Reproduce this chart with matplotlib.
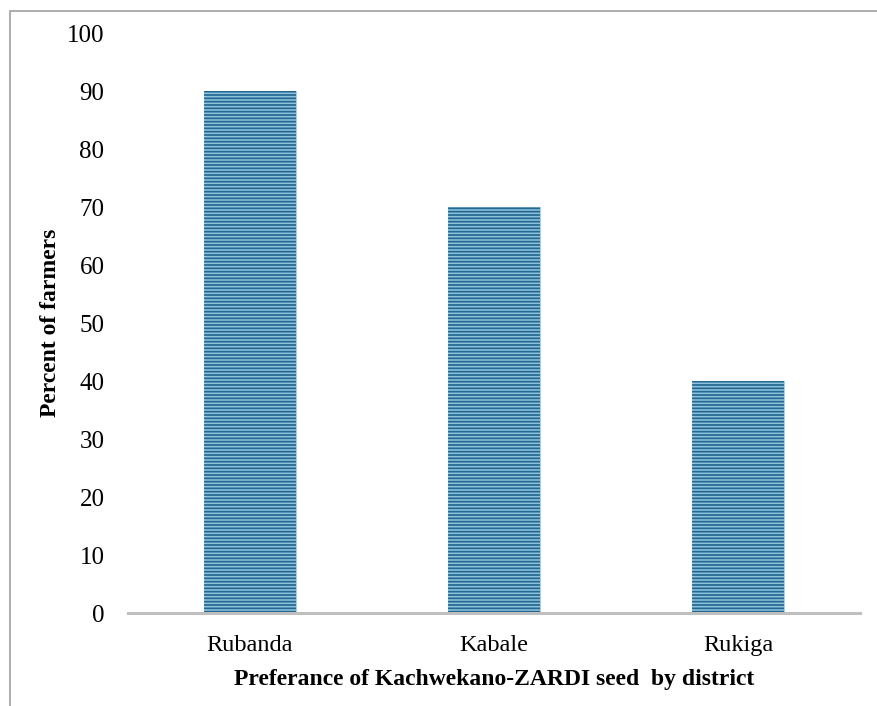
import matplotlib
matplotlib.use("Agg")
from matplotlib import pyplot as plt
from matplotlib.patches import Rectangle
import numpy as np

districts = ["Rubanda", "Kabale", "Rukiga"]
percent = [90, 70, 40]
yticks = [0, 10, 20, 30, 40, 50, 60, 70, 80, 90, 100]

plt.rcParams["font.family"] = ["Liberation Serif", "DejaVu Serif"]
plt.rcParams["hatch.linewidth"] = 1.25

fig = plt.figure(figsize=(8.78, 7.06), dpi=100)
ax = fig.add_axes([128 / 878, 1 - 613 / 706, 732 / 878, 580 / 706])

x = np.arange(len(districts))
# light base fill, then dark horizontal stripes laid over it
ax.bar(x, percent, width=0.38, color="#8cc2dc", edgecolor="#a6d0e4",
       linewidth=0.8, zorder=2)
ax.bar(x, percent, width=0.38, color="none", edgecolor="#246790",
       linewidth=0, hatch="-----", zorder=2.1)

ax.set_xlim(-0.5, len(districts) - 0.5)
ax.set_ylim(0, 100)
ax.set_yticks(yticks)
ax.set_xticks(x)
ax.set_xticklabels(districts)
ax.tick_params(axis="y", length=0, pad=17, labelsize=18)
ax.tick_params(axis="x", length=0, pad=16, labelsize=17.5)

for side in ["top", "right", "left"]:
    ax.spines[side].set_visible(False)
ax.spines["bottom"].set_color("#bfbfbf")
ax.spines["bottom"].set_linewidth(2.2)
ax.spines["bottom"].set_zorder(3)

ax.set_xlabel("Preferance of Kachwekano-ZARDI seed  by district",
              fontsize=17, fontweight="bold", labelpad=9)
ax.set_ylabel("Percent of farmers", fontsize=17, fontweight="bold", labelpad=4)

# outer chart border (only left and top edges fall inside the image)
fig.patches.append(Rectangle((10 / 878, -0.1), 1.2, 1.1 - 11 / 706,
                             transform=fig.transFigure, fill=False,
                             edgecolor="#a0a0a0", linewidth=1.2))

fig.savefig("out.png", dpi=100)
